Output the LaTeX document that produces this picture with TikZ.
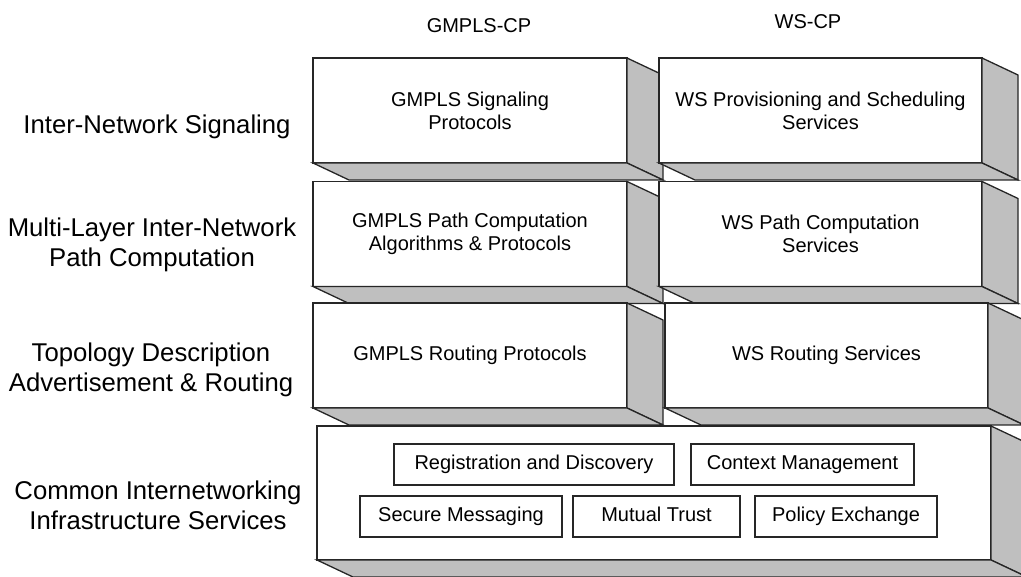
\documentclass[tikz,border=0pt]{standalone}
\usepackage{fontspec}
\setmainfont{Liberation Sans}
\usetikzlibrary{calc}

% right and lower faces of a slab, drawn from the anchors of its front face
\newcommand{\slabsides}[1]{%
    \filldraw[side] (#1.north east) -- ($(#1.north east)+(\dx,\dy)$)
        -- ($(#1.south east)+(\dx,\dy)$) -- (#1.south east) -- cycle;
    \filldraw[side] (#1.south west) -- (#1.south east)
        -- ($(#1.south east)+(\dx,\dy)$) -- ($(#1.south west)+(\dx,\dy)$) -- cycle;
}

\begin{document}
\begin{tikzpicture}[
    x=1pt, y=-1pt,
    line width=1.3pt,
    slab/.style={
        rectangle, draw=black!85, fill=white, outer sep=0pt,
        align=center, minimum height=105pt, inner sep=0pt,
        font=\fontsize{20}{23}\selectfont
    },
    side/.style={draw=black!85, fill=black!25},
    service/.style={
        rectangle, draw=black!85, fill=white, outer sep=0pt,
        minimum height=41pt, inner sep=0pt,
        text height=14.5pt, text depth=4pt,
        font=\fontsize{20}{23}\selectfont
    },
    layer/.style={align=center, font=\fontsize{25.7}{30}\selectfont},
    header/.style={font=\fontsize{20}{23}\selectfont},
]
    \useasboundingbox (0,0) rectangle (1021,577);

    % depth of the slabs
    \def\dx{36}
    \def\dy{17}

    % Column x-coordinates (centres of the front faces).
    \def\xGmpls{470}
    \def\xWs{820.5}

    % Row y-coordinates.
    \def\yUno{110.5}
    \def\yDos{234}
    \def\yTres{355.5}
    \def\yCuatro{493}

    % ---------- Headers ----------
    \node[header] (gmpls-header) at (479, 26) {GMPLS-CP};
    \node[header] (ws-header) at (808, 22) {WS-CP};

    % ---------- Inter-network signaling ----------
    \node[slab, minimum width=314pt] (gmpls-sig) at (\xGmpls, \yUno) {GMPLS Signaling\\Protocols};
    \slabsides{gmpls-sig}
    \node[slab, minimum width=323pt] (ws-sig) at (\xWs, \yUno) {WS Provisioning and Scheduling\\Services};
    \slabsides{ws-sig}

    % ---------- Path computation ----------
    \node[slab, minimum width=314pt] (gmpls-path) at (\xGmpls, \yDos) {GMPLS Path Computation\\Algorithms \& Protocols};
    \slabsides{gmpls-path}
    \node[slab, minimum width=323pt] (ws-path) at (\xWs, \yDos) {WS Path Computation\\Services};
    \slabsides{ws-path}

    % ---------- Routing ----------
    \node[slab, minimum width=314pt] (gmpls-route) at (\xGmpls, \yTres) {GMPLS Routing Protocols};
    \slabsides{gmpls-route}
    \node[slab, minimum width=323pt] (ws-route) at (826.5, \yTres) {WS Routing Services};
    \slabsides{ws-route}

    % ---------- Common infrastructure ----------
    \node[slab, minimum width=674pt, minimum height=134pt] (infra) at (654, \yCuatro) {};
    \slabsides{infra}

    \node[service, minimum width=280pt] (reg) at (534, 464.5) {Registration and Discovery};
    \node[service, minimum width=223pt] (ctx) at (802.5, 464.5) {Context Management};
    \node[service, minimum width=202pt] (secure) at (461, 516.5) {Secure Messaging};
    \node[service, minimum width=167pt] (trust) at (656.5, 516.5) {Mutual Trust};
    \node[service, minimum width=182pt] (policy) at (846, 516.5) {Policy Exchange};

    % ---------- Layer labels ----------
    \node[layer] (lbl-sig) at (157, 127) {Inter-Network Signaling};
    \node[layer] (lbl-path) at (152, 245) {Multi-Layer Inter-Network\\Path Computation};
    \node[layer] (lbl-route) at (151, 370) {Topology Description\\Advertisement \& Routing};
    \node[layer] (lbl-infra) at (158, 505) {Common Internetworking\\Infrastructure Services};

\end{tikzpicture}
\end{document}
